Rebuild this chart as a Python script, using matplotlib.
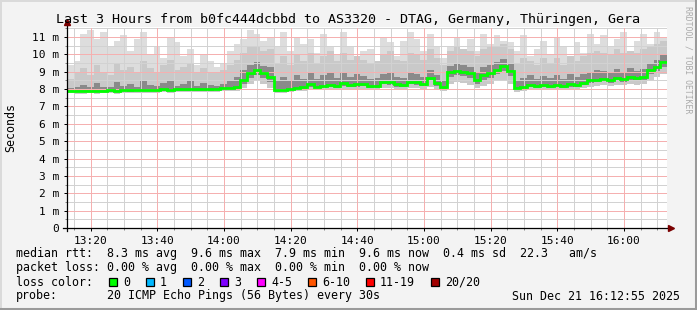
import numpy as np
import matplotlib
matplotlib.use("Agg")
import matplotlib.pyplot as plt
from matplotlib.lines import Line2D
from matplotlib.patches import Rectangle

# ---------------- data ----------------
start_time = "13:12:55"
step_min = 2  # minutes per sample

median = [7.92,7.91,7.90,7.92,7.90,7.91,7.93,7.92,7.94,7.93,
          7.96,7.95,7.97,7.96,7.98,7.97,7.98,7.99,7.98,8.00,
          7.99,8.00,8.01,8.05,8.08,8.10,8.55,8.95,9.12,8.95,
          8.70,7.95,7.97,8.02,8.08,8.12,8.30,8.15,8.20,8.25,
          8.18,8.35,8.22,8.28,8.30,8.18,8.20,8.42,8.40,8.28,
          8.25,8.42,8.40,8.30,8.65,8.35,8.10,9.00,9.05,8.98,
          8.90,8.50,8.80,8.90,9.10,9.35,9.05,8.05,8.15,8.25,
          8.20,8.22,8.18,8.25,8.20,8.28,8.22,8.35,8.50,8.55,
          8.60,8.52,8.62,8.58,8.70,8.62,8.68,9.10,9.30,9.55]

smoke_min = [7.75,7.74,7.72,7.76,7.73,7.75,7.77,7.74,7.78,7.76,
             7.79,7.78,7.80,7.79,7.81,7.80,7.82,7.82,7.81,7.83,
             7.82,7.84,7.85,7.88,7.90,7.92,8.05,8.30,8.45,8.30,
             8.05,7.78,7.80,7.84,7.88,7.92,7.95,7.93,7.96,7.98,
             7.95,8.02,7.97,8.00,8.02,7.95,7.97,8.05,8.05,7.98,
             7.97,8.06,8.05,8.00,8.15,8.02,7.90,8.30,8.40,8.35,
             8.25,8.05,8.20,8.30,8.45,8.55,8.30,7.85,7.92,7.98,
             7.95,7.97,7.93,7.98,7.95,8.00,7.96,8.05,8.15,8.20,
             8.22,8.18,8.25,8.22,8.30,8.25,8.28,8.50,8.70,8.85]

smoke_low = [7.84,7.83,7.82,7.85,7.82,7.84,7.86,7.84,7.87,7.85,
             7.88,7.87,7.89,7.88,7.90,7.89,7.90,7.91,7.90,7.92,
             7.91,7.92,7.93,7.96,7.98,8.00,8.30,8.65,8.80,8.62,
             8.40,7.86,7.88,7.93,7.98,8.02,8.15,8.05,8.08,8.12,
             8.06,8.20,8.10,8.15,8.18,8.06,8.08,8.28,8.26,8.15,
             8.12,8.28,8.26,8.18,8.45,8.20,7.98,8.70,8.80,8.75,
             8.65,8.30,8.55,8.65,8.85,9.05,8.75,7.95,8.03,8.12,
             8.08,8.10,8.06,8.12,8.08,8.15,8.10,8.22,8.35,8.40,
             8.44,8.38,8.46,8.42,8.54,8.46,8.52,8.85,9.05,9.30]

smoke_high = [8.05,8.15,8.25,8.10,8.35,8.15,8.10,8.40,8.20,8.30,
              8.15,8.45,8.25,8.20,8.35,8.50,8.20,8.30,8.45,8.20,
              8.35,8.25,8.20,8.30,8.45,8.70,9.10,9.40,9.55,9.35,
              9.30,8.55,8.70,8.50,8.80,8.60,8.95,8.60,8.80,9.00,
              8.65,8.90,8.70,8.85,8.75,8.60,8.65,8.85,9.00,8.70,
              8.65,8.95,8.85,8.70,9.10,8.80,8.50,9.35,9.45,9.40,
              9.30,8.90,9.25,9.40,9.55,9.75,9.50,8.55,8.65,8.80,
              8.60,8.75,8.65,8.80,8.60,8.85,8.70,8.85,9.00,9.10,
              9.05,8.95,9.15,9.00,9.20,9.05,9.15,9.50,9.70,9.95]

smoke_upper = [8.60,8.90,9.20,8.80,9.40,9.00,8.80,9.50,9.10,9.30,
               8.90,9.60,9.20,9.00,9.40,9.70,9.10,9.30,9.50,8.90,
               9.20,9.00,8.90,9.10,9.40,9.70,10.10,10.40,10.50,10.20,
               10.30,9.50,9.90,9.40,10.00,9.60,10.10,9.50,9.90,10.20,
               9.60,10.10,9.70,9.90,9.70,9.50,9.60,10.00,10.20,9.70,
               9.60,10.10,10.00,9.70,10.30,9.80,9.40,10.20,10.40,10.30,
               10.20,9.90,10.30,10.40,10.50,10.60,10.30,9.50,9.80,9.60,
               9.40,9.80,9.50,9.80,9.40,9.90,9.60,9.90,10.10,10.20,
               10.10,10.00,10.30,10.10,10.20,10.10,10.30,10.40,10.60,10.80]

smoke_max = [9.40,9.60,11.20,11.40,10.90,11.30,10.50,10.80,11.10,10.20,
             10.90,11.30,10.00,10.40,9.80,11.00,10.70,9.90,10.30,9.40,
             10.00,9.60,9.30,9.50,10.20,10.60,10.90,11.40,11.20,10.80,
             11.00,10.50,11.30,10.20,11.00,10.60,10.90,10.10,11.20,10.40,
             10.00,11.30,10.50,9.80,10.20,10.30,9.60,11.00,10.70,9.90,
             10.80,11.30,10.90,10.20,11.20,10.40,9.80,10.50,11.00,10.30,
             10.90,10.20,11.20,10.60,11.10,10.80,10.70,10.20,11.10,9.90,
             10.30,10.80,10.00,11.00,10.50,9.80,10.70,10.10,11.20,10.60,
             11.10,10.40,10.90,11.30,10.20,10.80,11.20,10.60,11.30,11.00]

x_tick_labels = ["13:20", "13:40", "14:00", "14:20", "14:40", "15:00", "15:20", "15:40", "16:00"]
y_tick_values = [0, 1, 2, 3, 4, 5, 6, 7, 8, 9, 10, 11]
y_tick_labels = ["0", "1 m", "2 m", "3 m", "4 m", "5 m", "6 m", "7 m", "8 m", "9 m", "10 m", "11 m"]

title = "Last 3 Hours from b0fc444dcbbd to AS3320 - DTAG, Germany, Thüringen, Gera"
legend_rtt = "median rtt:  8.3 ms avg  9.6 ms max  7.9 ms min  9.6 ms now  0.4 ms sd  22.3   am/s"
legend_loss = "packet loss: 0.00 % avg  0.00 % max  0.00 % min  0.00 % now"
loss_names = ["0", "1", "2", "3", "4-5", "6-10", "11-19", "20/20"]
loss_colors = ["#00FF00", "#00B8FF", "#0059FF", "#7E00FF", "#FF00FF", "#FF5500", "#FF0000", "#A10000"]
probe_text = "20 ICMP Echo Pings (56 Bytes) every 30s"
stamp_text = "Sun Dec 21 16:12:55 2025"

# ---------------- figure ----------------
W, H = 697, 310
fig = plt.figure(figsize=(W / 100, H / 100), dpi=100)
fig.patch.set_facecolor("#F3F3F3")
MONO = "DejaVu Sans Mono"


def fx(px):
    return px / W


def fy(py):
    return 1 - py / H


ax = fig.add_axes([fx(67), fy(228), 600 / W, 201 / H])
ax.set_facecolor("white")

n = len(median)
t_end = n * step_min
ax.set_xlim(0, t_end)
ax.set_ylim(0, 201 / 17.36)

edges = np.arange(n + 1) * step_min


def ext(a):
    a = np.asarray(a, dtype=float)
    return np.append(a, a[-1])


ax.fill_between(edges, ext(smoke_min), ext(smoke_max), step="post", color="#DDDDDD", lw=0, zorder=1)
ax.fill_between(edges, ext(smoke_min), ext(smoke_upper), step="post", color="#C9C9C9", lw=0, zorder=2)
ax.fill_between(edges, ext(smoke_low), ext(smoke_high), step="post", color="#8A8A8A", lw=0, zorder=3)
ax.step(edges, ext(median), where="post", color="#00FF00", lw=2.0, zorder=6, solid_joinstyle="miter")

# time helpers
h0, m0, s0 = [int(v) for v in start_time.split(":")]
start_min = h0 * 60 + m0 + s0 / 60.0


def to_x(label):
    hh, mm = [int(v) for v in label.split(":")]
    return hh * 60 + mm - start_min


major_x = [to_x(l) for l in x_tick_labels]
first5 = int(np.ceil(start_min / 5.0)) * 5
minor_x = [m - start_min for m in range(first5, int(start_min + t_end) + 1, 5)]
minor_y = np.arange(0.5, 11.6, 0.5)

dot = (0, (1, 1))
for xv in minor_x:
    ax.axvline(xv, color="#D2D2D2", lw=0.72, ls=dot, zorder=4, antialiased=False)
for yv in minor_y:
    ax.axhline(yv, color="#D2D2D2", lw=0.72, ls=dot, zorder=4, antialiased=False)
for xv in major_x:
    ax.axvline(xv, color="#F5B0B0", lw=0.72, ls=dot, zorder=5, antialiased=False)
for yv in y_tick_values[1:]:
    ax.axhline(yv, color="#F5B0B0", lw=0.72, ls=dot, zorder=5, antialiased=False)

ax.set_xticks(major_x)
ax.set_xticklabels(x_tick_labels, fontfamily=MONO, fontsize=8.0)
ax.set_xticks(minor_x, minor=True)
ax.set_yticks(y_tick_values)
ax.set_yticklabels(y_tick_labels, fontfamily=MONO, fontsize=8.0)
ax.set_yticks(minor_y, minor=True)
ax.tick_params(axis="both", which="major", length=2.5, width=0.72, color="#000000", direction="out")
ax.tick_params(axis="both", which="minor", length=1.5, width=0.72, color="#888888", direction="out")
ax.tick_params(axis="x", pad=3)
ax.tick_params(axis="y", pad=3)

for s in ax.spines.values():
    s.set_visible(False)

# axis lines with arrows
fig.add_artist(Line2D([fx(67), fx(67)], [fy(231), fy(24)], color="black", lw=0.9))
fig.add_artist(Line2D([fx(63), fx(670)], [fy(228), fy(228)], color="black", lw=0.9))
fig.add_artist(Line2D([fx(67)], [fy(22)], marker="^", markersize=5, color="#7A0000", lw=0))
fig.add_artist(Line2D([fx(671)], [fy(228)], marker=">", markersize=5, color="#7A0000", lw=0))

# frame border
fig.add_artist(Line2D([0, 1], [fy(0.5), fy(0.5)], color="#DADADA", lw=1.4))
fig.add_artist(Line2D([fx(0.5), fx(0.5)], [0, 1], color="#DADADA", lw=1.4))
fig.add_artist(Line2D([fx(695.5), fx(695.5)], [0, 1], color="#9A9A9A", lw=2.2))
fig.add_artist(Line2D([0, 1], [fy(308.5), fy(308.5)], color="#9A9A9A", lw=2.2))

# texts
fig.text(0.5, fy(19), title, ha="center", va="center", fontfamily=MONO, fontsize=9.6, color="black")
fig.text(fx(11), fy(128), "Seconds", ha="center", va="center", rotation=90, fontfamily=MONO, fontsize=8.4)
fig.text(fx(688), fy(60), "RRDTOOL / TOBI OETIKER", ha="center", va="center", rotation=270,
         fontfamily=MONO, fontsize=5.9, color="#AAAAAA")

fs = 8.4
fig.text(fx(16), fy(254), legend_rtt, ha="left", va="center", fontfamily=MONO, fontsize=fs)
fig.text(fx(16), fy(268), legend_loss, ha="left", va="center", fontfamily=MONO, fontsize=fs)
fig.text(fx(16), fy(282), "loss color:", ha="left", va="center", fontfamily=MONO, fontsize=fs)
box_x = [109, 146, 183, 220, 257, 308, 366, 431]
for bx, name, col in zip(box_x, loss_names, loss_colors):
    fig.add_artist(Rectangle((fx(bx), fy(286)), 8 / W, 8 / H, facecolor=col, edgecolor="black", lw=0.9))
    fig.text(fx(bx + 14), fy(282), name, ha="left", va="center", fontfamily=MONO, fontsize=fs)
fig.text(fx(16), fy(296), "probe:", ha="left", va="center", fontfamily=MONO, fontsize=fs)
fig.text(fx(107), fy(296), probe_text, ha="left", va="center", fontfamily=MONO, fontsize=fs)
fig.text(fx(680), fy(296), stamp_text, ha="right", va="center", fontfamily=MONO, fontsize=fs)

fig.savefig("out.png", dpi=100, facecolor=fig.get_facecolor())
